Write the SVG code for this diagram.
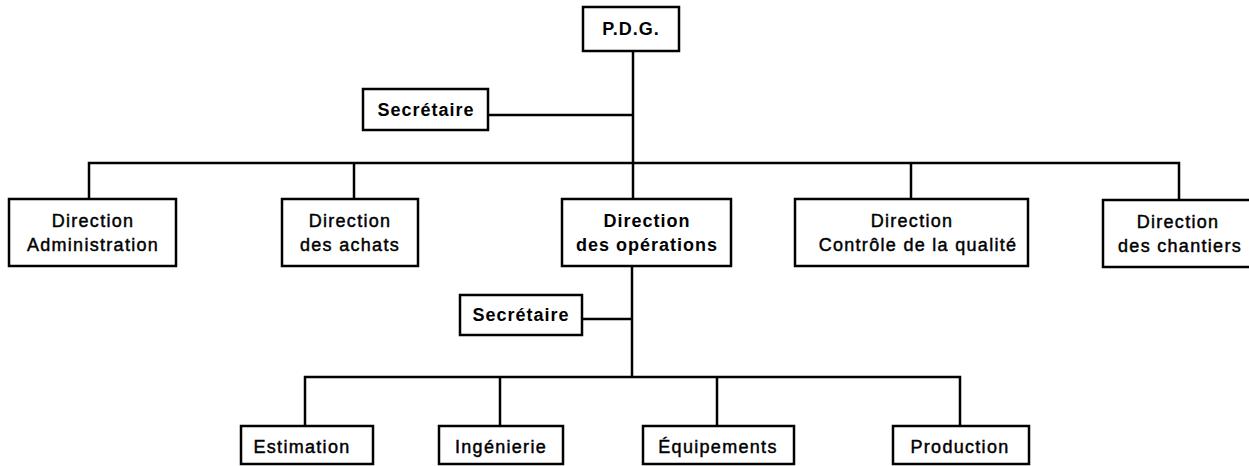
<svg xmlns="http://www.w3.org/2000/svg" width="1249" height="466" viewBox="0 0 1249 466">
<style>
.box{fill:#fff;stroke:#000;stroke-width:2.5}
.ln{fill:none;stroke:#000;stroke-width:2.5}
text{font-family:"Liberation Sans",Arial,sans-serif;font-size:18px;text-anchor:middle;fill:#000}
.r{stroke:#000;stroke-width:0.45;letter-spacing:1.3px}
.b{font-weight:bold;letter-spacing:1px}
</style>
<rect width="1249" height="466" fill="#fff"/>
<g id="connectors">
<path class="ln" d="M633 51V199"/>
<path class="ln" d="M488 115H633"/>
<path class="ln" d="M89 199V163H1179V200"/>
<path class="ln" d="M354 163V199"/>
<path class="ln" d="M911 163V199"/>
<path class="ln" d="M632 266V377"/>
<path class="ln" d="M582 319H632"/>
<path class="ln" d="M305 426V377H960V426"/>
<path class="ln" d="M500 377V426"/>
<path class="ln" d="M717 377V426"/>
</g>
<g id="pdg"><rect class="box" x="583" y="7" width="96" height="44"/><text class="b" x="631" y="35">P.D.G.</text></g>
<g id="secretaire1"><rect class="box" x="363" y="89" width="125" height="41"/><text class="b" x="426" y="116">Secrétaire</text></g>
<g id="admin"><rect class="box" x="9" y="199" width="167" height="67"/><text class="r" x="93" y="227">Direction</text><text class="r" x="93" y="251">Administration</text></g>
<g id="achats"><rect class="box" x="282" y="199" width="136" height="67"/><text class="r" x="350" y="227">Direction</text><text class="r" x="350" y="251">des achats</text></g>
<g id="operations"><rect class="box" x="562" y="199" width="169" height="67"/><text class="b" x="647" y="227">Direction</text><text class="b" x="647" y="251">des opérations</text></g>
<g id="qualite"><rect class="box" x="795" y="199" width="233" height="67"/><text class="r" x="912" y="227">Direction</text><text class="r" x="918" y="251">Contrôle de la qualité</text></g>
<g id="chantiers"><rect class="box" x="1103" y="200" width="152" height="67"/><text class="r" x="1178" y="228">Direction</text><text class="r" x="1180" y="252">des chantiers</text></g>
<g id="secretaire2"><rect class="box" x="460" y="295" width="122" height="40"/><text class="b" x="521" y="321">Secrétaire</text></g>
<g id="estimation"><rect class="box" x="241" y="426" width="132" height="38"/><text class="r" x="302" y="453">Estimation</text></g>
<g id="ingenierie"><rect class="box" x="439" y="426" width="124" height="38"/><text class="r" x="501" y="453">Ingénierie</text></g>
<g id="equipements"><rect class="box" x="643" y="426" width="151" height="38"/><text class="r" x="718" y="453">Équipements</text></g>
<g id="production"><rect class="box" x="893" y="426" width="136" height="38"/><text class="r" x="960" y="453">Production</text></g>
</svg>
